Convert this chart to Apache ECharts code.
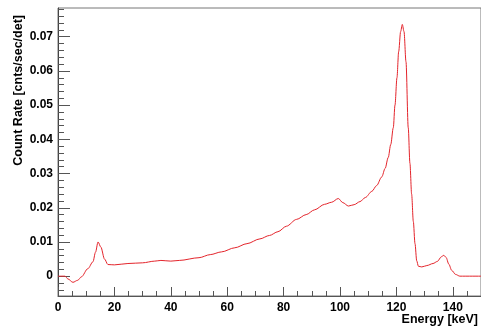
<!DOCTYPE html>
<html>
<head>
<meta charset="utf-8">
<script src="https://cdn.jsdelivr.net/npm/echarts@6/dist/echarts.min.js"></script>
<style>
  html, body { margin: 0; padding: 0; background: #fff; }
  #chart { width: 481px; height: 326px; }
</style>
</head>
<body>
<div id="chart"></div>
<script>
// spectrum
const energies = [0, 2.5, 3.5, 5.3, 7, 8.3, 10.6, 12.4, 13.3, 14.2, 15.2, 16.5, 17.7, 20, 24.8, 30, 34.3, 36.5, 40, 43,
  50, 54, 58, 62.7, 67, 71.6, 75, 78, 81, 84.6, 88, 91, 94.5, 97, 99.4, 101, 103, 105, 107.1, 109,
  111.3, 113, 114.8, 116, 117.1, 118, 118.9, 119.5, 120.2, 120.8, 121.5, 122.1, 122.7, 123.4, 124.2, 124.8, 125.4, 126, 126.6, 127.2,
  127.8, 129, 130.8, 133, 134.5, 136, 136.8, 137.6, 138.6, 139.6, 141, 142.5, 150];
const rates = [0, 0, -0.0008, -0.0018, -0.0012, -0.0002, 0.0022, 0.0042, 0.0070, 0.0100, 0.0085, 0.0050, 0.0034, 0.0033, 0.0037, 0.0039, 0.0044, 0.0046, 0.0044, 0.0046,
  0.0054, 0.0063, 0.0071, 0.0083, 0.0095, 0.0109, 0.0119, 0.0130, 0.0146, 0.0166, 0.0180, 0.0194, 0.0210, 0.0216, 0.0227, 0.0215, 0.0205, 0.0209, 0.0218, 0.0230,
  0.0248, 0.0265, 0.0290, 0.0315, 0.0347, 0.0385, 0.0434, 0.0500, 0.0580, 0.0656, 0.0715, 0.0736, 0.0715, 0.0627, 0.0434, 0.0330, 0.0240, 0.0160, 0.0095, 0.0045,
  0.0029, 0.0027, 0.0031, 0.0037, 0.0043, 0.0057, 0.0061, 0.0055, 0.0035, 0.0017, 0.0005, 0, 0];

const xTicks = [0, 20, 40, 60, 80, 100, 120, 140];
const xMinor = [5, 10, 15, 25, 30, 35, 45, 50, 55, 65, 70, 75, 85, 90, 95, 105, 110, 115, 125, 130, 135, 145];
const yTicks = [0, 0.01, 0.02, 0.03, 0.04, 0.05, 0.06, 0.07];
const yMinor = [-0.004, -0.002, 0.002, 0.004, 0.006, 0.008, 0.012, 0.014, 0.016, 0.018, 0.022, 0.024, 0.026, 0.028,
  0.032, 0.034, 0.036, 0.038, 0.042, 0.044, 0.046, 0.048, 0.052, 0.054, 0.056, 0.058, 0.062, 0.064, 0.066, 0.068,
  0.072, 0.074, 0.076, 0.078];

const points = energies.map((e, i) => [e, rates[i]]);

const chart = echarts.init(document.getElementById('chart'));
const font = 'Liberation Sans, Arial, sans-serif';
const tickStyle = { color: '#555', width: 1 };

const xBase = {
  type: 'value', min: 0, max: 150, position: 'bottom',
  splitLine: { show: false }
};
const yBase = {
  type: 'value', min: -0.0058, max: 0.0784, position: 'left',
  splitLine: { show: false }
};

chart.setOption({
  animation: false,
  grid: { left: 58, right: 0, top: 8, bottom: 30, show: true, borderColor: '#777', borderWidth: 1 },
  xAxis: [
    Object.assign({}, xBase, {
      axisLine: { onZero: false, lineStyle: { color: '#555' } },
      axisTick: { inside: true, length: 9, lineStyle: tickStyle, customValues: xTicks },
      axisLabel: { customValues: xTicks, margin: 6, color: '#000', fontWeight: 'bold', fontSize: 12, fontFamily: font }
    }),
    Object.assign({}, xBase, {
      axisLine: { show: false, onZero: false },
      axisTick: { inside: true, length: 5, lineStyle: tickStyle, customValues: xMinor },
      axisLabel: { show: false }
    })
  ],
  yAxis: [
    Object.assign({}, yBase, {
      axisLine: { show: true, onZero: false, lineStyle: { color: '#444' } },
      axisTick: { inside: true, length: 12, lineStyle: tickStyle, customValues: yTicks },
      axisLabel: {
        customValues: yTicks, margin: 5, color: '#000', fontWeight: 'bold', fontSize: 12, fontFamily: font,
        formatter: v => v === 0 ? '0' : v.toFixed(2)
      }
    }),
    Object.assign({}, yBase, {
      axisLine: { show: false, onZero: false },
      axisTick: { inside: true, length: 6, lineStyle: tickStyle, customValues: yMinor },
      axisLabel: { show: false }
    })
  ],
  graphic: [
    {
      type: 'text', x: 19, y: 15, rotation: Math.PI / 2,
      style: { text: 'Count Rate [cnts/sec/det]', fill: '#000', font: 'bold 12.5px ' + font, align: 'right', verticalAlign: 'middle' }
    },
    {
      type: 'text', x: 478, y: 320,
      style: { text: 'Energy [keV]', fill: '#000', font: 'bold 12.5px ' + font, align: 'right', verticalAlign: 'middle' }
    }
  ],
  series: [{
    type: 'line',
    data: points,
    showSymbol: false,
    smooth: 0.3,
    smoothMonotone: 'x',
    lineStyle: { color: '#e3242b', width: 1 }
  }]
});
</script>
</body>
</html>
